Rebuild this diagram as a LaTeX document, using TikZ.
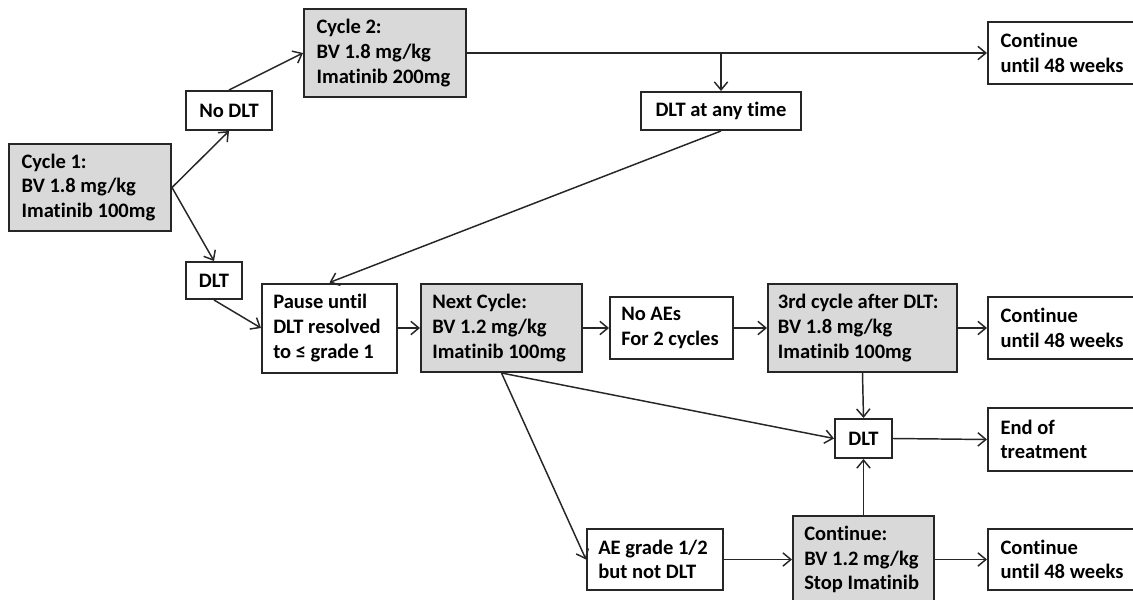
\documentclass[tikz,border=0pt]{standalone}
\usepackage{fontspec}
\setmainfont{Carlito}[Ligatures=NoCommon]
\usetikzlibrary{arrows.meta}
\definecolor{boxgray}{HTML}{D9D9D9}
\definecolor{linec}{HTML}{262626}
\begin{document}
\begin{tikzpicture}[x=0.75pt,y=-0.75pt,
  box/.style={draw=linec, line width=1.5pt, inner sep=0pt, align=center,
    font=\bfseries\fontsize{15.4}{18.5}\selectfont, text=black, fill=white},
  gbox/.style={box, fill=boxgray},
  txt/.style={inner sep=0pt, align=left, anchor=west, font=\bfseries\fontsize{15.4}{18.5}\selectfont, text=black},
  conn/.style={draw=linec, line width=1.1pt, -{Straight Barb[length=6pt,width=10pt]}}
]
\useasboundingbox (0,0) rectangle (1133,600);
\clip (0,0) rectangle (1133,600);
\fill[white] (0,0) rectangle (1133,600);

% boxes
\node[gbox, minimum width=121.5pt, minimum height=65.25pt] (c1) at (90,187.5) {};
\node[box, minimum width=64.5pt, minimum height=29.25pt] (nodlt) at (229,110.5) {No DLT};
\node[gbox, minimum width=121.5pt, minimum height=66pt] (c2) at (385,53) {};
\node[box, minimum width=42pt, minimum height=27.75pt] (dlt1) at (214,280.5) {DLT};
\node[box, minimum width=101.25pt, minimum height=66.75pt] (pause) at (329.5,328) {};
\node[gbox, minimum width=120.75pt, minimum height=66pt] (next) at (501.5,328) {};
\node[box, minimum width=92.25pt, minimum height=46.5pt] (noae) at (671.5,328) {};
\node[gbox, minimum width=141.75pt, minimum height=66pt] (third) at (862.5,328) {};
\node[box, minimum width=114pt, minimum height=46.5pt] (cont2) at (1064,328) {};
\node[box, minimum width=120pt, minimum height=28.5pt] (anytime) at (721,111) {DLT at any time};
\node[box, minimum width=114pt, minimum height=46.5pt] (cont1) at (1064,53) {};
\node[box, minimum width=42.75pt, minimum height=29.25pt] (dlt2) at (863.5,438.5) {DLT};
\node[box, minimum width=114pt, minimum height=47.25pt] (endt) at (1064,439.5) {};
\node[box, minimum width=102pt, minimum height=45.75pt] (ae) at (655,559.5) {};
\node[gbox, minimum width=105.75pt, minimum height=66pt] (cont3) at (863.5,559.5) {};
\node[box, minimum width=114pt, minimum height=45.75pt] (cont4) at (1064,559.5) {};

% texts
\node[txt] (c1t) at ([xshift=10pt]c1.west) {Cycle 1:\\BV 1.8 mg/kg\\Imatinib 100mg};
\node[txt] (c2t) at ([xshift=10pt]c2.west) {Cycle 2:\\BV 1.8 mg/kg\\Imatinib 200mg};
\node[txt] (pauset) at ([xshift=9pt]pause.west) {Pause until\\DLT resolved\\to ≤ grade 1};
\node[txt] (nextt) at ([xshift=9pt]next.west) {Next Cycle:\\BV 1.2 mg/kg\\Imatinib 100mg};
\node[txt] (noaet) at ([xshift=9pt]noae.west) {No AEs\\For 2 cycles};
\node[txt] (thirdt) at ([xshift=8pt]third.west) {3rd cycle after DLT:\\BV 1.8 mg/kg\\Imatinib 100mg};
\node[txt] (cont2t) at ([xshift=10pt]cont2.west) {Continue\\until 48 weeks};
\node[txt] (cont1t) at ([xshift=10pt]cont1.west) {Continue\\until 48 weeks};
\node[txt] (endtt) at ([xshift=10pt]endt.west) {End of\\treatment};
\node[txt] (aet) at ([xshift=9pt]ae.west) {AE grade 1/2\\but not DLT};
\node[txt] (cont3t) at ([xshift=9pt]cont3.west) {Continue:\\BV 1.2 mg/kg\\Stop Imatinib};
\node[txt] (cont4t) at ([xshift=10pt]cont4.west) {Continue\\until 48 weeks};

% connectors
\draw[conn] (c1.east) -- (nodlt.south);
\draw[conn] (c1.east) -- (dlt1.north);
\draw[conn] (nodlt.north) -- (c2.west);
\draw[conn] (c2.east) -- (cont1.west);
\coordinate (br) at (c2.east -| anytime.north);
\draw[conn] (br) -- (anytime.north);
\draw[conn] (anytime.south) -- (pause.north);
\draw[conn] (dlt1.south) -- (pause.west);
\draw[conn] (pause.east) -- (next.west);
\draw[conn] (next.east) -- (noae.west);
\draw[conn] (noae.east) -- (third.west);
\draw[conn] (third.east) -- (cont2.west);
\draw[conn] (third.south) -- (dlt2.north);
\draw[conn] (next.south) -- (dlt2.west);
\draw[conn] (next.south) -- (ae.west);
\draw[conn] (ae.east) -- (cont3.west);
\draw[conn] (cont3.north) -- (dlt2.south);
\draw[conn] (cont3.east) -- (cont4.west);
\draw[conn] (dlt2.east) -- (endt.west);
\end{tikzpicture}
\end{document}
